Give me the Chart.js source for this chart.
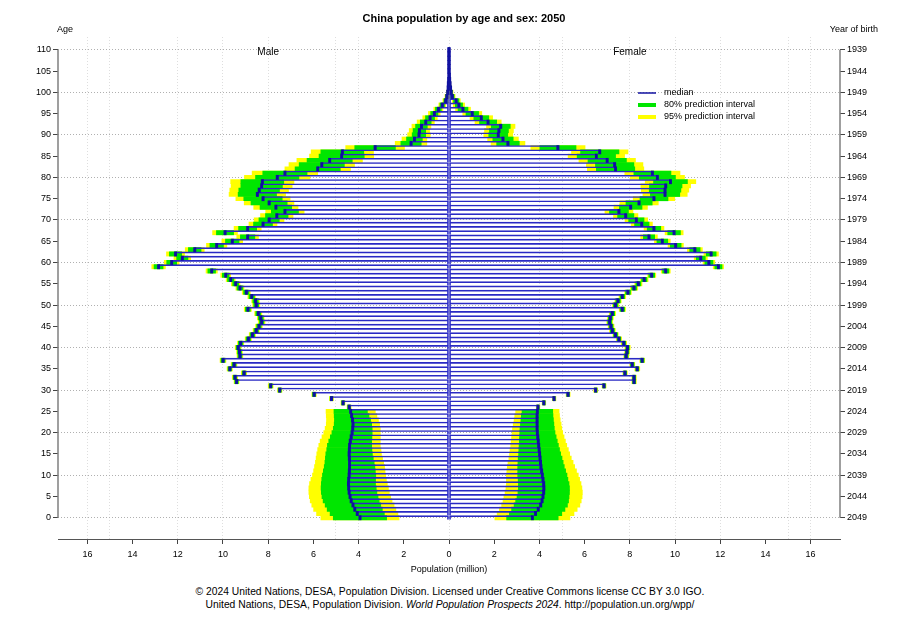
<!DOCTYPE html>
<html>
<head>
<meta charset="utf-8">
<title>China population by age and sex: 2050</title>
<script src="https://cdn.jsdelivr.net/npm/chart.js@4.4.1/dist/chart.umd.min.js"></script>
<style>
  body { margin: 0; background: #fff; font-family: "Liberation Sans", Arial, sans-serif; }
  #wrap { position: relative; width: 900px; height: 620px; }
  #footer { position: absolute; left: 0; top: 585px; width: 900px; text-align: center;
            font-size: 10.3px; line-height: 13px; color: #000; }
</style>
</head>
<body>
<div id="wrap">
  <canvas id="pyramid" width="900" height="580"></canvas>
  <div id="footer">
    © 2024 United Nations, DESA, Population Division. Licensed under Creative Commons license CC BY 3.0 IGO.<br>
    United Nations, DESA, Population Division. <i>World Population Prospects 2024</i>. http://population.un.org/wpp/
  </div>
</div>
<script>
// one bar per single year of age, 0..110
const ages = Array.from({ length: 111 }, (_, i) => i);
const ageTicks = [0, 5, 10, 15, 20, 25, 30, 35, 40, 45, 50, 55, 60, 65, 70, 75, 80, 85, 90, 95, 100, 105, 110];
const birthYears = [2049, 2044, 2039, 2034, 2029, 2024, 2019, 2014, 2009, 2004, 1999, 1994, 1989,
                    1984, 1979, 1974, 1969, 1964, 1959, 1954, 1949, 1944, 1939];
const popTicks = [-16, -14, -12, -10, -8, -6, -4, -2, 0, 2, 4, 6, 8, 10, 12, 14, 16];
const popGrid = [-16, -15, -12, -10, -8, -5, -4, 0, 4, 5, 8, 10, 12, 15, 16];

// median population (million), index = age
const maleMedian = [
  3.94, 4.06, 4.17, 4.25, 4.33, 4.38, 4.42, 4.44, 4.45, 4.44,
  4.42, 4.41, 4.40, 4.40, 4.41, 4.42, 4.41, 4.40, 4.37, 4.33,
  4.29, 4.26, 4.25, 4.27, 4.31, 4.35, 4.42, 4.69, 5.20, 5.97,
  7.49, 7.89, 9.40, 9.47, 9.07, 9.70, 9.51, 10.00, 9.25, 9.27,
  9.33, 9.22, 8.88, 8.70, 8.53, 8.41, 8.29, 8.33, 8.44, 8.90,
  8.53, 8.56, 8.73, 8.97, 9.25, 9.44, 9.66, 9.88, 10.50, 12.85,
  12.27, 11.80, 12.10, 11.25, 10.28, 9.59, 8.91, 9.91, 8.91, 8.23,
  7.96, 7.62, 7.26, 7.66, 7.96, 8.23, 8.48, 8.40, 8.29, 8.26,
  7.60, 7.26, 5.81, 5.63, 5.28, 4.75, 4.72, 3.27, 1.68, 1.53,
  1.33, 1.31, 1.22, 1.03, 0.84, 0.65, 0.47, 0.30, 0.15, 0.10,
  0.06, 0.04, 0.03, 0.02, 0.01, 0.01, 0.01, 0.01, 0.01, 0.01, 0.01
];
const femaleMedian = [
  3.69, 3.83, 3.95, 4.06, 4.12, 4.16, 4.19, 4.20, 4.19, 4.16,
  4.13, 4.10, 4.07, 4.05, 4.03, 4.01, 3.99, 3.97, 3.95, 3.93,
  3.91, 3.90, 3.90, 3.90, 3.90, 3.91, 3.94, 4.20, 4.65, 5.27,
  6.49, 6.86, 8.19, 8.19, 7.79, 8.33, 8.11, 8.55, 7.84, 7.88,
  7.90, 7.74, 7.52, 7.37, 7.23, 7.17, 7.11, 7.14, 7.23, 7.67,
  7.37, 7.48, 7.67, 7.92, 8.19, 8.38, 8.64, 8.97, 9.59, 11.92,
  11.50, 11.14, 11.60, 10.88, 10.03, 9.44, 8.85, 9.96, 9.07, 8.53,
  8.29, 7.82, 7.52, 8.04, 8.41, 9.07, 9.56, 9.56, 9.59, 9.80,
  9.22, 9.00, 7.37, 7.33, 7.00, 6.52, 6.67, 4.82, 2.61, 2.39,
  2.18, 2.21, 2.29, 1.73, 1.43, 1.03, 0.62, 0.44, 0.32, 0.15,
  0.10, 0.07, 0.05, 0.03, 0.02, 0.01, 0.01, 0.01, 0.01, 0.01, 0.01
];

// half-widths of the prediction intervals around the median (million)
const male80 = [
  1.18, 1.20, 1.22, 1.23, 1.24, 1.24, 1.23, 1.22, 1.20, 1.19,
  1.18, 1.15, 1.12, 1.09, 1.06, 1.03, 1.00, 0.98, 0.95, 0.92,
  0.89, 0.86, 0.83, 0.80, 0.77, 0.74, 0.06, 0.06, 0.06, 0.07,
  0.07, 0.07, 0.08, 0.08, 0.08, 0.08, 0.09, 0.09, 0.09, 0.09,
  0.09, 0.10, 0.10, 0.10, 0.10, 0.10, 0.10, 0.11, 0.11, 0.11,
  0.11, 0.12, 0.12, 0.12, 0.13, 0.13, 0.14, 0.15, 0.17, 0.20,
  0.22, 0.25, 0.27, 0.28, 0.30, 0.30, 0.32, 0.38, 0.40, 0.42,
  0.45, 0.50, 0.60, 0.70, 0.80, 0.85, 0.85, 0.90, 0.92, 0.95,
  0.96, 0.98, 1.00, 1.00, 1.00, 1.00, 0.95, 0.90, 0.45, 0.35,
  0.30, 0.28, 0.26, 0.24, 0.20, 0.16, 0.13, 0.10, 0.08, 0.05,
  0.03, 0.02, 0.01, 0.01, 0, 0, 0, 0, 0, 0, 0
];
const male95 = [
  1.73, 1.80, 1.82, 1.82, 1.81, 1.80, 1.78, 1.76, 1.72, 1.67,
  1.62, 1.58, 1.55, 1.51, 1.47, 1.43, 1.40, 1.36, 1.33, 1.29,
  1.25, 1.22, 1.18, 1.15, 1.12, 1.09, 0.09, 0.09, 0.09, 0.10,
  0.10, 0.11, 0.11, 0.12, 0.12, 0.12, 0.13, 0.13, 0.13, 0.13,
  0.13, 0.14, 0.14, 0.14, 0.14, 0.15, 0.15, 0.15, 0.16, 0.16,
  0.16, 0.17, 0.17, 0.18, 0.18, 0.19, 0.20, 0.22, 0.25, 0.30,
  0.33, 0.37, 0.40, 0.42, 0.45, 0.46, 0.48, 0.55, 0.60, 0.62,
  0.66, 0.72, 0.85, 0.98, 1.10, 1.20, 1.25, 1.30, 1.35, 1.40,
  1.45, 1.45, 1.45, 1.45, 1.45, 1.42, 1.38, 1.30, 0.70, 0.55,
  0.50, 0.45, 0.42, 0.38, 0.32, 0.26, 0.20, 0.15, 0.12, 0.08,
  0.05, 0.03, 0.02, 0.01, 0.01, 0, 0, 0, 0, 0, 0
];
const female80 = [
  1.14, 1.16, 1.18, 1.18, 1.17, 1.15, 1.14, 1.13, 1.12, 1.10,
  1.09, 1.06, 1.03, 1.00, 0.97, 0.93, 0.90, 0.87, 0.84, 0.81,
  0.78, 0.76, 0.74, 0.72, 0.70, 0.68, 0.05, 0.05, 0.05, 0.06,
  0.06, 0.06, 0.07, 0.07, 0.07, 0.07, 0.08, 0.08, 0.08, 0.08,
  0.08, 0.08, 0.08, 0.09, 0.09, 0.09, 0.09, 0.09, 0.10, 0.10,
  0.10, 0.10, 0.10, 0.11, 0.11, 0.11, 0.12, 0.13, 0.14, 0.16,
  0.18, 0.20, 0.22, 0.23, 0.24, 0.24, 0.25, 0.28, 0.30, 0.32,
  0.34, 0.36, 0.42, 0.50, 0.58, 0.62, 0.65, 0.70, 0.72, 0.75,
  0.80, 0.82, 0.85, 0.85, 0.85, 0.85, 0.85, 0.80, 0.50, 0.45,
  0.42, 0.42, 0.42, 0.38, 0.33, 0.28, 0.22, 0.16, 0.12, 0.08,
  0.05, 0.03, 0.02, 0.01, 0.01, 0, 0, 0, 0, 0, 0
];
const female95 = [
  1.66, 1.70, 1.72, 1.73, 1.73, 1.73, 1.71, 1.68, 1.65, 1.62,
  1.59, 1.54, 1.49, 1.44, 1.38, 1.33, 1.29, 1.24, 1.20, 1.16,
  1.12, 1.09, 1.06, 1.02, 0.99, 0.96, 0.08, 0.08, 0.08, 0.09,
  0.09, 0.09, 0.10, 0.10, 0.10, 0.11, 0.11, 0.11, 0.11, 0.11,
  0.12, 0.12, 0.12, 0.12, 0.13, 0.13, 0.13, 0.13, 0.14, 0.14,
  0.14, 0.14, 0.15, 0.15, 0.16, 0.16, 0.17, 0.18, 0.20, 0.23,
  0.26, 0.29, 0.32, 0.33, 0.34, 0.35, 0.37, 0.40, 0.44, 0.47,
  0.50, 0.54, 0.62, 0.74, 0.85, 0.92, 0.98, 1.05, 1.10, 1.12,
  1.20, 1.22, 1.25, 1.25, 1.25, 1.25, 1.25, 1.20, 0.75, 0.68,
  0.64, 0.64, 0.63, 0.58, 0.50, 0.42, 0.33, 0.25, 0.18, 0.12,
  0.08, 0.04, 0.03, 0.02, 0.01, 0.01, 0, 0, 0, 0, 0
];

const BLUE = '#2a2ac4';
const DARK_BLUE = '#1010a0';
const GREEN = '#00e600';
const YELLOW = '#ffff00';
const FONT = '"Liberation Sans", Arial, sans-serif';

Chart.defaults.font.family = FONT;
Chart.defaults.color = '#000';

// male values go to the left (negative side)
function intervalBars(med, half, sign) {
  return ages.map((a, i) => ({ y: a, x: [sign * (med[i] - half[i]), sign * (med[i] + half[i])] }));
}
function popBars(med, sign) {
  return ages.map((a, i) => ({ y: a, x: [0, sign * med[i]] }));
}
function medianMarks(med, sign) {
  return ages.map((a, i) => ({ y: a, x: [sign * (med[i] - 0.05), sign * (med[i] + 0.05)] }));
}

const common = { grouped: false, barPercentage: 1, categoryPercentage: 1, borderWidth: 0 };
const outline = {
  backgroundColor: 'rgba(255,255,255,0)', borderColor: BLUE,
  borderSkipped: false, borderWidth: { top: 1, right: 1, bottom: 0, left: 1 }
};

// first dataset is drawn on top
const datasets = [
  { ...common, label: 'median M', data: medianMarks(maleMedian, -1), backgroundColor: DARK_BLUE },
  { ...common, label: 'median F', data: medianMarks(femaleMedian, 1), backgroundColor: DARK_BLUE },
  { ...common, ...outline, label: 'Male', data: popBars(maleMedian, -1) },
  { ...common, ...outline, label: 'Female', data: popBars(femaleMedian, 1) },
  { ...common, label: '80% M', data: intervalBars(maleMedian, male80, -1), backgroundColor: GREEN },
  { ...common, label: '80% F', data: intervalBars(femaleMedian, female80, 1), backgroundColor: GREEN },
  { ...common, label: '95% M', data: intervalBars(maleMedian, male95, -1), backgroundColor: YELLOW },
  { ...common, label: '95% F', data: intervalBars(femaleMedian, female95, 1), backgroundColor: YELLOW }
];

// title, axis lines, side labels and legend
const decorations = {
  id: 'decorations',
  afterDraw(chart) {
    const { ctx, chartArea: area } = chart;
    const x = chart.scales.x, y = chart.scales.y;
    ctx.save();
    ctx.strokeStyle = '#808080';
    ctx.lineWidth = 1.5;
    ctx.beginPath();
    ctx.moveTo(area.left, y.getPixelForValue(0));
    ctx.lineTo(area.left, y.getPixelForValue(110));
    ctx.moveTo(area.right, y.getPixelForValue(0));
    ctx.lineTo(area.right, y.getPixelForValue(110));
    ctx.stroke();

    ctx.fillStyle = '#000';
    ctx.textBaseline = 'middle';
    ctx.textAlign = 'center';
    ctx.font = 'bold 11px ' + FONT;
    ctx.fillText('China population by age and sex: 2050', 464, 19);

    ctx.font = '10px ' + FONT;
    ctx.fillText('Male', x.getPixelForValue(-8), y.getPixelForValue(110) + 2);
    ctx.fillText('Female', x.getPixelForValue(8), y.getPixelForValue(110) + 2);

    ctx.font = '9px ' + FONT;
    ctx.textAlign = 'left';
    ctx.fillText('Age', 57, 30);
    ctx.textAlign = 'right';
    ctx.fillText('Year of birth', 878, 30);

    // legend
    const items = [
      ['median', DARK_BLUE, 1.5],
      ['80% prediction interval', GREEN, 4],
      ['95% prediction interval', YELLOW, 4]
    ];
    ctx.textAlign = 'left';
    items.forEach(([text, color, w], i) => {
      const ly = 93 + i * 12;
      ctx.strokeStyle = color;
      ctx.lineWidth = w;
      ctx.beginPath();
      ctx.moveTo(638, ly);
      ctx.lineTo(656, ly);
      ctx.stroke();
      ctx.fillText(text, 664, ly);
    });
    ctx.restore();
  }
};

new Chart(document.getElementById('pyramid'), {
  type: 'bar',
  data: { datasets },
  options: {
    indexAxis: 'y',
    responsive: false,
    animation: false,
    events: [],
    layout: { padding: { top: 37, left: 0, right: 0, bottom: 0 } },
    scales: {
      x: {
        type: 'linear', min: -17.3, max: 17.3, position: 'bottom',
        afterBuildTicks: s => { s.ticks = popTicks.map(v => ({ value: v })); },
        afterFit: s => { s.height = 41; },
        ticks: { callback: v => String(Math.abs(v)), padding: 5, font: { size: 9 }, maxRotation: 0, autoSkip: false },
        grid: { drawOnChartArea: false, tickLength: 5, tickColor: '#444' },
        border: { display: true, color: '#555', width: 1 },
        title: { display: true, text: 'Population (million)', font: { size: 9 }, padding: { top: 0, bottom: 5 } }
      },
      xg: {
        type: 'linear', min: -17.3, max: 17.3, position: 'top',
        afterBuildTicks: s => { s.ticks = popGrid.map(v => ({ value: v })); },
        afterFit: s => { s.height = 0; },
        ticks: { display: false },
        grid: { drawTicks: false, color: '#dedede', lineWidth: 1 },
        border: { display: false, dash: [1, 2] }
      },
      y: {
        type: 'linear', min: -5, max: 113, position: 'left', offset: false,
        afterBuildTicks: s => { s.ticks = ageTicks.map(v => ({ value: v })); },
        afterFit: s => { s.width = 58; },
        ticks: { padding: 2, font: { size: 9 }, autoSkip: false },
        grid: {
          offset: false, tickLength: 5, tickColor: '#444',
          color: c => (c.tick && c.tick.value % 10 === 0) ? '#b0b0b0' : 'rgba(0,0,0,0)'
        },
        border: { display: false, dash: [1, 2] }
      },
      y2: {
        type: 'linear', min: -5, max: 113, position: 'right', offset: false,
        afterBuildTicks: s => { s.ticks = ageTicks.map(v => ({ value: v })); },
        afterFit: s => { s.width = 60; },
        ticks: { padding: 2, font: { size: 9 }, autoSkip: false,
                 callback: v => String(birthYears[ageTicks.indexOf(v)]) },
        grid: { offset: false, drawOnChartArea: false, tickLength: 5, tickColor: '#444' },
        border: { display: false }
      }
    },
    plugins: {
      legend: { display: false },
      tooltip: { enabled: false },
      title: { display: false }
    }
  },
  plugins: [decorations]
});
</script>
</body>
</html>
